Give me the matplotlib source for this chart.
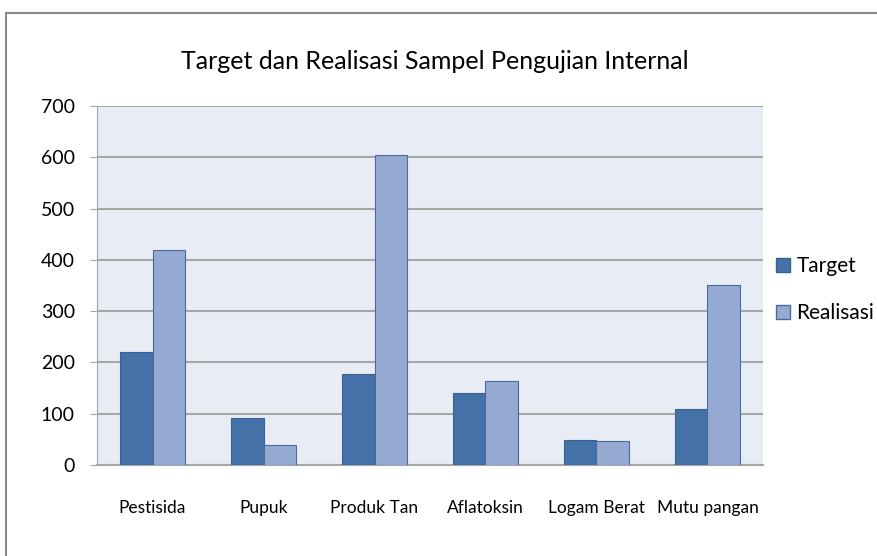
import numpy as np
import matplotlib.pyplot as plt
from matplotlib.patches import Patch

categories = ['Pestisida', 'Pupuk', 'Produk Tan', 'Aflatoksin', 'Logam Berat', 'Mutu pangan']
target = [220, 91, 177, 141, 48, 110]
realisasi = [420, 39, 604, 164, 46, 351]
yticks = [0, 100, 200, 300, 400, 500, 600, 700]

plt.rcParams['font.family'] = ['Lato', 'DejaVu Sans']

fig = plt.figure(figsize=(8.78, 5.56), dpi=100)
ax = fig.add_axes([0.1105, 0.1637, 0.7585, 0.6457])

# chart border (only top and left visible in the crop)
fig.add_artist(plt.Line2D([0.007, 0.007], [0, 0.977], color='#8a8a8a', lw=1.5))
fig.add_artist(plt.Line2D([0.007, 1.0], [0.977, 0.977], color='#8a8a8a', lw=1.5))

x = np.arange(len(categories))
w = 0.29
c_t, c_r = '#4472a8', '#95aad2'
ax.bar(x - w / 2, target, w, color=c_t, edgecolor='#3b5f8e', lw=0.8, zorder=3)
ax.bar(x + w / 2, realisasi, w, color=c_r, edgecolor='#4a6b9a', lw=0.8, zorder=3)

ax.set_facecolor('#e8edf5')
ax.set_xlim(-0.5, len(categories) - 0.5)
ax.set_ylim(0, 700)
ax.set_yticks(yticks)
ax.set_yticklabels([str(v) for v in yticks], fontsize=14)
ax.yaxis.grid(True, color='#a6a6a6', lw=1.5, zorder=1)
ax.set_xticks(x)
ax.set_xticklabels(categories, fontsize=12.5)
ax.tick_params(axis='x', length=0, pad=25)
ax.tick_params(axis='y', length=5, color='#a6a6a6', pad=11)
for s in ['top', 'right']:
    ax.spines[s].set_visible(False)
ax.spines['left'].set_color('#a6a6a6')
ax.spines['bottom'].set_color('#a6a6a6')
ax.spines['bottom'].set_linewidth(1.5)

fig.text(0.495, 0.89, 'Target dan Realisasi Sampel Pengujian Internal',
         ha='center', va='center', fontsize=18)

handles = [Patch(facecolor=c_t, edgecolor='#3b5f8e', label='Target'),
           Patch(facecolor=c_r, edgecolor='#4a6b9a', label='Realisasi')]
fig.legend(handles=handles, loc='center left', bbox_to_anchor=(0.874, 0.479),
           frameon=False, fontsize=15, handlelength=0.7, handleheight=0.7,
           handletextpad=0.3, labelspacing=1.3, borderaxespad=0)

fig.savefig('out.png', dpi=100)
